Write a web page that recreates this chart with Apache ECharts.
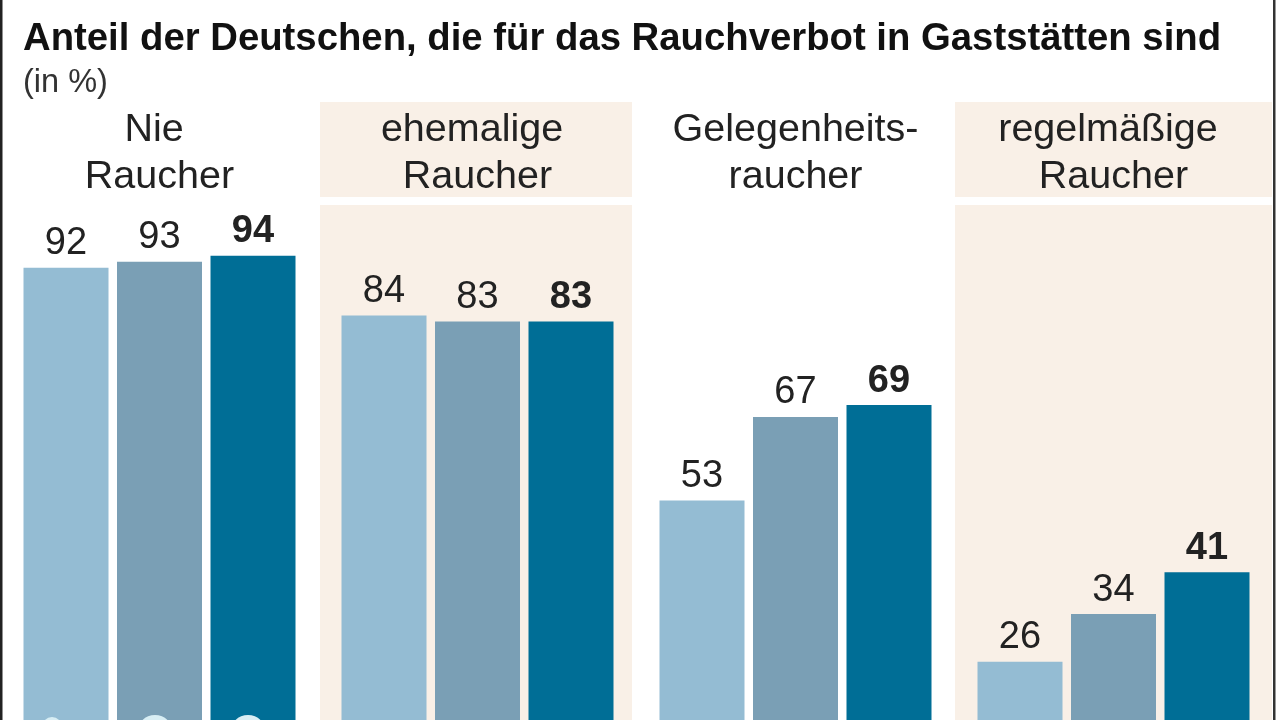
<!DOCTYPE html>
<html><head><meta charset="utf-8">
<style>html,body{margin:0;padding:0;background:#fff}#c{width:1280px;height:720px}</style>
<script src="https://cdn.jsdelivr.net/npm/echarts@6/dist/echarts.min.js"></script>
</head><body><div id="c"></div>
<script>
const titleText = 'Anteil der Deutschen, die für das Rauchverbot in Gaststätten sind';
const subtitleText = '(in %)';
const categories = ['Nie \nRaucher', 'ehemalige \nRaucher', 'Gelegenheits-\nraucher', 'regelmäßige \nRaucher'];
const seriesA = [92, 84, 53, 26];
const seriesB = [93, 83, 67, 34];
const seriesC = [94, 83, 69, 41];
const colorA = '#94bcd3', colorB = '#7a9fb5', colorC = '#006e96';
const band = '#f9f0e7';
const font = '"Liberation Sans", Arial, sans-serif';

const chart = echarts.init(document.getElementById('c'), null, {renderer: 'canvas'});
const mk = (name, data, color, weight) => ({
  name, type: 'bar', data, barWidth: 85, barGap: '10%',
  itemStyle: {color},
  label: {show: true, position: 'top', distance: 5, color: '#222', fontFamily: font, fontSize: 38, fontWeight: weight}
});
chart.setOption({
  animation: false,
  backgroundColor: '#fff',
  title: [
    {text: titleText, left: 18, top: 15, textStyle: {fontFamily: font, fontSize: 38.3, fontWeight: 'bold', color: '#111'}},
    {text: subtitleText, left: 18, top: 62, textStyle: {fontFamily: font, fontSize: 32.5, fontWeight: 'normal', color: '#333'}}
  ],
  grid: {left: 0.5, top: 220, width: 1272, height: 597, outerBoundsMode: 'none'},
  xAxis: {
    type: 'category', data: categories, position: 'top',
    axisLine: {show: false}, axisTick: {show: false},
    axisLabel: {interval: 0, margin: 19, fontFamily: font, fontSize: 39.5, lineHeight: 47, color: '#222'}
  },
  yAxis: {type: 'value', min: 0, max: 100, show: false, splitLine: {show: false}},
  graphic: [
    {type: 'rect', z: -1, shape: {x: 320, y: 102, width: 312, height: 95}, style: {fill: band}},
    {type: 'rect', z: -1, shape: {x: 955, y: 102, width: 317, height: 95}, style: {fill: band}},
    {type: 'rect', z: -1, shape: {x: 320, y: 205, width: 312, height: 515}, style: {fill: band}},
    {type: 'rect', z: -1, shape: {x: 955, y: 205, width: 317, height: 515}, style: {fill: band}},
    {type: 'rect', z: 5, shape: {x: 0, y: 0, width: 2.5, height: 720}, style: {fill: '#222'}},
    {type: 'rect', z: 5, shape: {x: 1273, y: 0, width: 2.5, height: 720}, style: {fill: '#333'}},
    {type: 'circle', z: 5, shape: {cx: 155, cy: 733, r: 18}, style: {fill: '#d8eef4'}},
    {type: 'circle', z: 5, shape: {cx: 248, cy: 733, r: 18}, style: {fill: '#d8eef4'}},
    {type: 'circle', z: 5, shape: {cx: 52, cy: 727, r: 10}, style: {fill: '#d8eef4'}}
  ],
  series: [mk('A', seriesA, colorA, 'normal'), mk('B', seriesB, colorB, 'normal'), mk('C', seriesC, colorC, 'bold')]
});
</script></body></html>
